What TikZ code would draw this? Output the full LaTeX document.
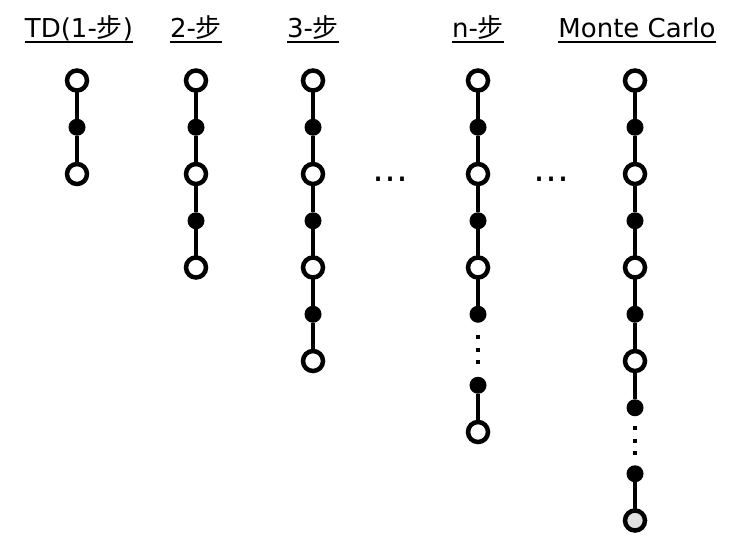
\documentclass[tikz,border=0pt]{standalone}
\usepackage{fontspec}
\setmainfont{DejaVu Sans}
\newfontfamily\cjk{Noto Sans CJK SC}
\usetikzlibrary{positioning}
\definecolor{endgray}{RGB}{224,224,224}

\begin{document}
\begin{tikzpicture}[
        x=1pt, y=-1pt,
        node distance=28.25pt,
        state/.style={circle, draw, line width=4.5pt, fill=white, minimum size=20pt, inner sep=0pt, outer sep=0pt},
        action/.style={circle, fill=black, minimum size=17pt, inner sep=0pt, outer sep=0pt},
        title/.style={font=\fontsize{26}{30}\selectfont, anchor=base, inner sep=0pt, text depth=0pt},
        more/.style={font=\fontsize{36}{40}\selectfont, anchor=base, inner sep=0pt},
        link/.style={line width=4.7pt},
        gap/.style={line width=4.7pt, dash pattern=on 4pt off 8.5pt},
        uline/.style={line width=1.5pt}
    ]
        \useasboundingbox (0,0) rectangle (733,544);

        % titles
        \node[title] (TDT) at (79,37) {TD(1-{\cjk 步})};
        \node[title] (TWOT) at (196,37) {2-{\cjk 步}};
        \node[title] (THREET) at (313,37) {3-{\cjk 步}};
        \node[title] (NT) at (478,37) {n-{\cjk 步}};
        \node[title] (MCT) at (637,37) {Monte Carlo};
        \foreach \t in {TDT, TWOT, THREET, NT, MCT}
            \draw[uline] ([yshift=-5pt]\t.south west) -- ([yshift=-5pt]\t.south east);

        % TD(1)
        \node[state] (TD0) at (77,80.5) {};
        \node[action, below=of TD0] (TDA1) {};
        \node[state, below=of TDA1] (TD1) {};

        % 2
        \node[state] (TWO0) at (196,80.5) {};
        \node[action, below=of TWO0] (TWOA1) {};
        \node[state, below=of TWOA1] (TWO1) {};
        \node[action, below=of TWO1] (TWOA2) {};
        \node[state, below=of TWOA2] (TWO2) {};

        % 3
        \node[state] (THREE0) at (313,80.5) {};
        \node[action, below=of THREE0] (THREEA1) {};
        \node[state, below=of THREEA1] (THREE1) {};
        \node[action, below=of THREE1] (THREEA2) {};
        \node[state, below=of THREEA2] (THREE2) {};
        \node[action, below=of THREE2] (THREEA3) {};
        \node[state, below=of THREEA3] (THREE3) {};

        % n
        \node[state] (N0) at (478,80.5) {};
        \node[action, below=of N0] (NA1) {};
        \node[state, below=of NA1] (N1) {};
        \node[action, below=of N1] (NA2) {};
        \node[state, below=of NA2] (N2) {};
        \node[action, below=of N2] (NA3) {};
        \node[action, below=54pt of NA3] (NAN) {};
        \node[state, below=of NAN] (NN) {};

        % Monte Carlo
        \node[state] (MC0) at (635,80.5) {};
        \node[action, below=of MC0] (MCA1) {};
        \node[state, below=of MCA1] (MC1) {};
        \node[action, below=of MC1] (MCA2) {};
        \node[state, below=of MCA2] (MC2) {};
        \node[action, below=of MC2] (MCA3) {};
        \node[state, below=of MCA3] (MC3) {};
        \node[action, below=of MC3] (MCA4) {};
        \node[action, below=49pt of MCA4] (MCAT) {};
        \node[state, fill=endgray, below=of MCAT] (MCT) {};

        \node[more] (DOTS1) at (390,181) {…};
        \node[more] (DOTS2) at (551,181) {…};

        \draw[link] (TD0) -- (TDA1) -- (TD1);
        \draw[link] (TWO0) -- (TWOA1) -- (TWO1) -- (TWOA2) -- (TWO2);
        \draw[link] (THREE0) -- (THREEA1) -- (THREE1) -- (THREEA2) -- (THREE2) -- (THREEA3) -- (THREE3);
        \draw[link] (N0) -- (NA1) -- (N1) -- (NA2) -- (N2) -- (NA3);
        \draw[gap, shorten <=12.5pt, shorten >=12.5pt] (NA3) -- (NAN);
        \draw[link] (NAN) -- (NN);
        \draw[link] (MC0) -- (MCA1) -- (MC1) -- (MCA2) -- (MC2) -- (MCA3) -- (MC3) -- (MCA4);
        \draw[gap, shorten <=10pt, shorten >=10pt] (MCA4) -- (MCAT);
        \draw[link] (MCAT) -- (MCT);
    \end{tikzpicture}
\end{document}
